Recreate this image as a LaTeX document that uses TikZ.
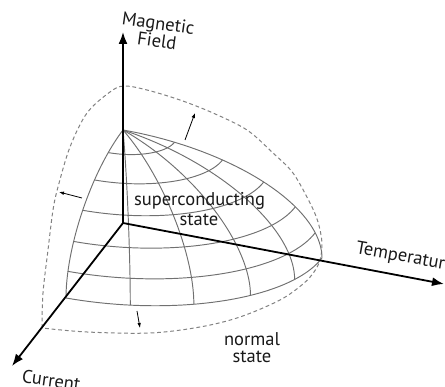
\documentclass[tikz,border=0pt]{standalone}
\usepackage{fontspec}
\setmainfont{PT Sans}
\usetikzlibrary{arrows.meta}
\definecolor{gridgray}{RGB}{112,112,112}
\definecolor{dashgray}{RGB}{130,130,130}
\definecolor{txt}{RGB}{25,25,25}
\tikzset{
  axisline/.style={line width=1.8pt, draw=black, -{Latex[length=12pt,width=9pt]}},
  gridline/.style={line width=0.95pt, draw=gridgray},
  outerline/.style={line width=1pt, draw=dashgray, dash pattern=on 3.8pt off 2.8pt},
  pusharrow/.style={line width=0.8pt, draw=black, -{Latex[length=5pt,width=3.6pt]}},
  lbl/.style={font=\fontsize{18.5}{20}\selectfont, text=txt, inner sep=0pt, align=center}
}
\begin{document}
\begin{tikzpicture}[x=1pt,y=-1pt]
\useasboundingbox (0,0) rectangle (445,387);
% key points
\coordinate (O) at (123,223);
\coordinate (Ztip) at (123,32);
\coordinate (Xtip) at (444,284);
\coordinate (Ytip) at (12,366);
% outer (normal state) boundary, dashed
\draw[outerline] plot[smooth, tension=0.55] coordinates {
  (42,328) (43,293) (48,250) (53,210) (58,187) (70,147) (87,113) (110,92) (124,86)
  (147,90) (180,100) (213,113) (247,130) (273,153) (293,173) (310,203) (318,222)
  (322,243) (320,260) (314,272) (303,284) (280,300) (240,317) (200,327) (150,333) (87,332) (42,328)};
% grid surface: meridians
\foreach \t in {0,18,36,54,72,90}{
  \draw[gridline] plot[domain=0:90, samples=40, variable=\p]
    ({123 + sin(\p)*(199*cos(\t) - 57*sin(\t))}, {223 + sin(\p)*(35*cos(\t) + 75*sin(\t)) - 93*cos(\p)});
}
% grid surface: parallels
\foreach \p in {15,30,45,60,75,90}{
  \draw[gridline] plot[domain=0:90, samples=40, variable=\t]
    ({123 + sin(\p)*(199*cos(\t) - 57*sin(\t))}, {223 + sin(\p)*(35*cos(\t) + 75*sin(\t)) - 93*cos(\p)});
}
% axes
\draw[axisline] (O) -- (Ztip);
\draw[axisline] (O) -- (Xtip);
\draw[axisline] (O) -- (Ytip);
% small arrows showing expansion
\coordinate (a1s) at (185,140); \coordinate (a1e) at (195,113);
\coordinate (a2s) at (82,198);  \coordinate (a2e) at (59,192);
\coordinate (a3s) at (137,311); \coordinate (a3e) at (140,328);
\draw[pusharrow] (a1s) -- (a1e);
\draw[pusharrow] (a2s) -- (a2e);
\draw[pusharrow] (a3s) -- (a3e);
% labels
\node[lbl, rotate=-8] (mag) at (158,25) {Magnetic};
\node[lbl, rotate=-8] (fld) at (157,41) {Field};
\node[lbl] (sc) at (199.5,201) {superconducting};
\node[lbl] (sc2) at (199,220) {state};
\node[lbl] (nm) at (252,339) {normal};
\node[lbl] (nm2) at (252,357) {state};
\node[lbl, rotate=-10, anchor=west] (temp) at (356,249) {Temperature};
\node[lbl, rotate=-8, anchor=west] (cur) at (22,376) {Current};
\end{tikzpicture}
\end{document}
